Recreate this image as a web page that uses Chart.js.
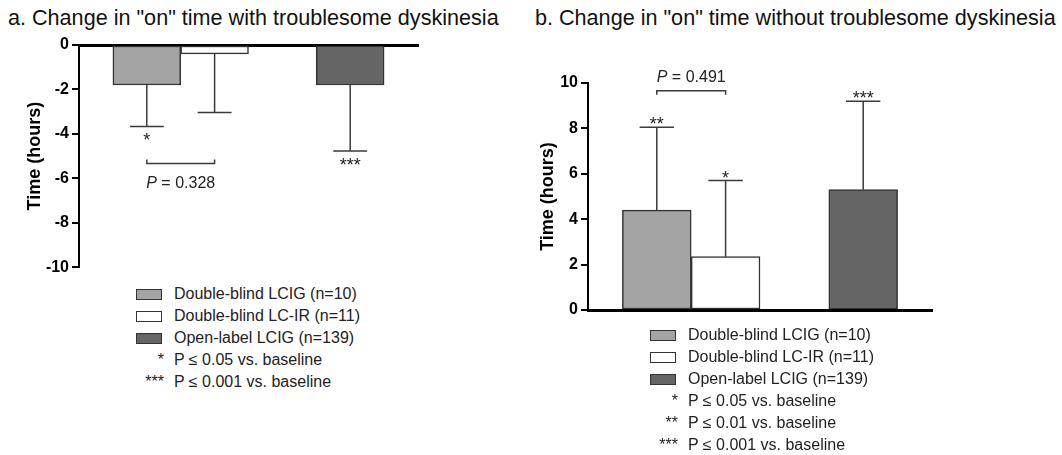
<!DOCTYPE html>
<html>
<head>
<meta charset="utf-8">
<script src="https://cdn.jsdelivr.net/npm/chart.js@4.4.1/dist/chart.umd.min.js"></script>
<style>
  body { margin: 0; width: 1062px; height: 455px; background: #fff; position: relative; overflow: hidden;
         font-family: 'Liberation Sans', Arial, sans-serif; color: #111; }
  .title { position: absolute; top: 7px; font-size: 21.6px; line-height: 22px; white-space: nowrap; }
  .box { position: absolute; }
  .legend { position: absolute; font-size: 16px; line-height: 22px; color: #222; }
  .row { height: 22px; display: flex; align-items: center; white-space: nowrap; }
  .key { width: 30px; margin-right: 10px; display: flex; justify-content: flex-end; font-size: 16px; }
  .sw { width: 24px; height: 9px; border: 1.5px solid #333; margin-right: 2px; }
</style>
</head>
<body>
<div class="title" style="left:8px">a. Change in "on" time with troublesome dyskinesia</div>
<div class="title" style="left:535px">b. Change in "on" time without troublesome dyskinesia</div>
<div class="box" style="left:0;top:0;width:440px;height:280px"><canvas id="chartA"></canvas></div>
<div class="box" style="left:520px;top:0;width:542px;height:330px"><canvas id="chartB"></canvas></div>
<div class="legend" id="legendA" style="left:134px;top:283px"></div>
<div class="legend" id="legendB" style="left:648px;top:324px"></div>
<script>
// groups shown in both panels
const groups = ['Double-blind LCIG (n=10)', 'Double-blind LC-IR (n=11)', 'Open-label LCIG (n=139)'];
const groupColors = ['#a4a4a4', '#ffffff', '#656565'];

// a. "on" time with troublesome dyskinesia (mean change, SD)
const withTD = [-1.8, -0.4, -1.8];
const withTDErr = [1.86, 2.64, 2.97];
const withTDStars = ['*', '', '***'];
const withTDTicks = [0, -2, -4, -6, -8, -10];
const withTDP = '0.328';

// b. "on" time without troublesome dyskinesia (mean change, SD)
const withoutTD = [4.4, 2.35, 5.3];
const withoutTDErr = [3.65, 3.35, 3.9];
const withoutTDStars = ['**', '*', '***'];
const withoutTDTicks = [0, 2, 4, 6, 8, 10];
const withoutTDP = '0.491';

const sigNotes = { '*': 'P \u2264 0.05 vs. baseline', '**': 'P \u2264 0.01 vs. baseline', '***': 'P \u2264 0.001 vs. baseline' };

const FONT = "'Liberation Sans', Arial, sans-serif";
const slots = [1, 2, 4]; // category slot for each group, empty slots give the gap

// error bars, significance stars and the p-value bracket
const annotate = {
  id: 'annotate',
  afterDatasetsDraw(chart, args, opts) {
    const { ctx } = chart;
    const y = chart.scales.y;
    const bars = chart.getDatasetMeta(0).data;
    ctx.save();
    ctx.strokeStyle = '#3a3a3a';
    ctx.lineWidth = 1.5;
    ctx.fillStyle = '#222';
    ctx.textAlign = 'center';
    ctx.textBaseline = 'alphabetic';
    opts.values.forEach((v, i) => {
      const bar = bars[slots[i]];
      const dir = v < 0 ? -1 : 1;
      const yEnd = y.getPixelForValue(v + dir * opts.errors[i]);
      const half = bar.width / 4;
      ctx.beginPath();
      ctx.moveTo(bar.x, bar.y);
      ctx.lineTo(bar.x, yEnd);
      ctx.moveTo(bar.x - half, yEnd);
      ctx.lineTo(bar.x + half, yEnd);
      ctx.stroke();
      if (opts.stars[i]) {
        ctx.font = '18px ' + FONT;
        ctx.fillText(opts.stars[i], bar.x, dir < 0 ? yEnd + 20 : yEnd + 3);
      }
    });
    // bracket between the two double-blind groups
    const b1 = bars[slots[0]].x, b2 = bars[slots[1]].x;
    const by = y.getPixelForValue(opts.bracketAt);
    const tick = opts.bracketAt < 0 ? -4 : 4;
    ctx.beginPath();
    ctx.moveTo(b1, by + tick);
    ctx.lineTo(b1, by);
    ctx.lineTo(b2, by);
    ctx.lineTo(b2, by + tick);
    ctx.stroke();
    const pPart = 'P', rest = ' = ' + opts.p;
    ctx.font = 'italic 16px ' + FONT;
    const wP = ctx.measureText(pPart).width;
    ctx.font = '16px ' + FONT;
    const wR = ctx.measureText(rest).width;
    const x0 = (b1 + b2) / 2 - (wP + wR) / 2;
    const ty = opts.bracketAt < 0 ? by + 24 : by - 9;
    ctx.textAlign = 'left';
    ctx.font = 'italic 16px ' + FONT;
    ctx.fillText(pPart, x0, ty);
    ctx.font = '16px ' + FONT;
    ctx.fillText(rest, x0 + wP, ty);
    ctx.restore();
  }
};

function makeChart(id, values, errors, stars, ticks, p, bracketAt, xPos, pad, axisW, titlePad) {
  const labels = ['', '', '', '', '', ''];
  const data = labels.map(() => null);
  const colors = labels.map(() => '#fff');
  slots.forEach((s, i) => { labels[s] = groups[i]; data[s] = values[i]; colors[s] = groupColors[i]; });
  return new Chart(document.getElementById(id), {
    type: 'bar',
    data: {
      labels,
      datasets: [{
        data,
        backgroundColor: colors,
        borderColor: '#333',
        borderWidth: 1.5,
        borderSkipped: false,
        barPercentage: 1,
        categoryPercentage: 1,
      }]
    },
    options: {
      responsive: true,
      maintainAspectRatio: false,
      animation: false,
      layout: { padding: pad },
      plugins: {
        legend: { display: false },
        tooltip: { enabled: false },
        annotate: { values, errors, stars, p, bracketAt },
      },
      scales: {
        x: {
          position: xPos,
          offset: false,
          ticks: { display: false },
          grid: { display: false },
          border: { display: true, color: '#000', width: 3 },
          afterFit: (s) => { s.height = 0; },
        },
        y: {
          min: Math.min(...ticks),
          max: Math.max(...ticks),
          afterBuildTicks: (s) => { s.ticks = ticks.map((v) => ({ value: v })); },
          ticks: { color: '#000', padding: 3, font: { family: FONT, size: 16, weight: 'bold' } },
          grid: { drawOnChartArea: false, color: '#000', lineWidth: 2, tickLength: 7 },
          border: { display: true, color: '#000', width: 2 },
          title: {
            display: true,
            text: 'Time (hours)',
            color: '#000',
            font: { family: FONT, size: 18, weight: 'bold' },
            padding: { top: titlePad, bottom: 0 },
          },
          afterFit: (s) => { s.width = axisW; },
        }
      }
    },
    plugins: [annotate]
  });
}

makeChart('chartA', withTD, withTDErr, withTDStars, withTDTicks, withTDP, -5.33, 'top',
  { top: 45, right: 22, bottom: 10, left: 0 }, 79, 24);
makeChart('chartB', withoutTD, withoutTDErr, withoutTDStars, withoutTDTicks, withoutTDP, 9.66, 'bottom',
  { top: 83, right: 130, bottom: 20, left: 0 }, 68, 17);

function buildLegend(elId, stars) {
  const el = document.getElementById(elId);
  let html = '';
  groups.forEach((g, i) => {
    html += `<div class="row"><div class="key"><div class="sw" style="background:${groupColors[i]}"></div></div>${g}</div>`;
  });
  [...new Set(stars.filter((s) => s))].sort((a, b) => a.length - b.length).forEach((s) => {
    html += `<div class="row"><div class="key">${s}</div>${sigNotes[s]}</div>`;
  });
  el.innerHTML = html;
}
buildLegend('legendA', withTDStars);
buildLegend('legendB', withoutTDStars);
</script>
</body>
</html>
